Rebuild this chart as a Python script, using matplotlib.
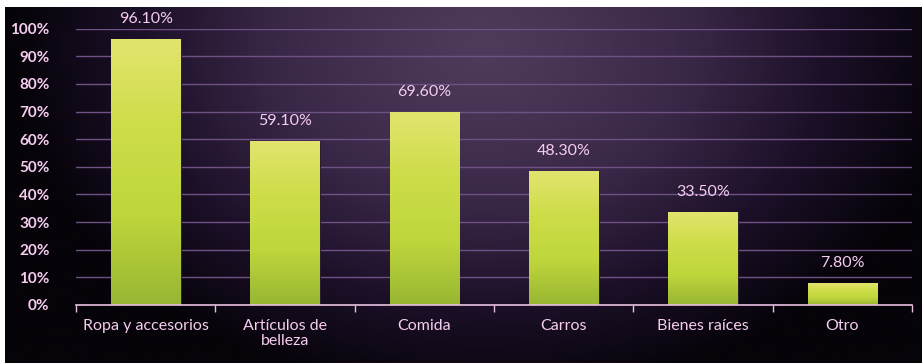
import numpy as np
import matplotlib.pyplot as plt
from matplotlib.colors import LinearSegmentedColormap

categories = ["Ropa y accesorios", "Artículos de\nbelleza", "Comida", "Carros", "Bienes raíces", "Otro"]
values = [0.961, 0.591, 0.696, 0.483, 0.335, 0.078]
value_labels = ["96.10%", "59.10%", "69.60%", "48.30%", "33.50%", "7.80%"]
yticks = [0, 0.1, 0.2, 0.3, 0.4, 0.5, 0.6, 0.7, 0.8, 0.9, 1.0]
ytick_labels = ["0%", "10%", "20%", "30%", "40%", "50%", "60%", "70%", "80%", "90%", "100%"]

txt = "#f6cdef"
plt.rcParams['font.family'] = ['Lato', 'DejaVu Sans']

W, H = 922, 363
fig = plt.figure(figsize=(W / 100, H / 100), dpi=100, facecolor="white")

# background: radial purple glow fading to black
bg = fig.add_axes([5 / W, 0, 1 - 5 / W, 1 - 7 / H])
bg.axis("off")
yy, xx = np.mgrid[0:H, 0:W]
r = np.sqrt(((xx - 480) / 470.0) ** 2 + ((yy - 40) / 360.0) ** 2)
r = np.clip(r, 0, 1) ** 1.3
bgcmap = LinearSegmentedColormap.from_list("bg", ["#4e3a5a", "#3a2848", "#1c1028", "#060309"])
bg.imshow(r, cmap=bgcmap, aspect="auto", vmin=0, vmax=1, interpolation="bilinear")

ax = fig.add_axes([76 / W, 1 - 305 / H, 836 / W, 276.3 / H])
ax.set_facecolor("none")
x = np.arange(len(categories))
bars = ax.bar(x, values, width=0.5, color="#c8dc45", edgecolor="#2a2030", linewidth=0.8, zorder=3)

barcmap = LinearSegmentedColormap.from_list("bar", ["#e2e46e", "#cddd48", "#bfd63c", "#98b633"])
grad = np.linspace(0, 1, 256).reshape(-1, 1)
for b in bars:
    x0, w, h = b.get_x(), b.get_width(), b.get_height()
    ax.imshow(grad, cmap=barcmap, aspect="auto", extent=(x0, x0 + w, 0, h), zorder=3.5,
              interpolation="bilinear")

for xi, v, lab in zip(x, values, value_labels):
    ax.text(xi, v + 0.05, lab, ha="center", va="bottom", color=txt, fontsize=11.5, zorder=5)

ax.set_xlim(-0.5, len(categories) - 0.5)
ax.set_ylim(0, 1.0)
ax.set_yticks(yticks)
ax.set_yticklabels(ytick_labels, color=txt, fontsize=11, fontweight="bold")
ax.tick_params(axis="y", length=0, pad=19)
ax.set_xticks(x)
ax.set_xticklabels(categories, color=txt, fontsize=11.5, linespacing=1.1)
for t in ax.get_xticklabels():
    t.set_multialignment("center")
ax.tick_params(axis="x", length=0, pad=10)
ax.set_xticks(np.arange(-0.5, len(categories)), minor=True)
ax.tick_params(axis="x", which="minor", length=5, color="#e8c0e0", width=1)

ax.grid(axis="y", color="#6f5285", linewidth=1.0, zorder=1)
for s in ["top", "right", "left"]:
    ax.spines[s].set_visible(False)
ax.spines["bottom"].set_color("#e8c0e0")
ax.spines["bottom"].set_linewidth(1.2)
ax.spines["bottom"].set_zorder(4)

fig.savefig("out.png", dpi=100, facecolor="white")
